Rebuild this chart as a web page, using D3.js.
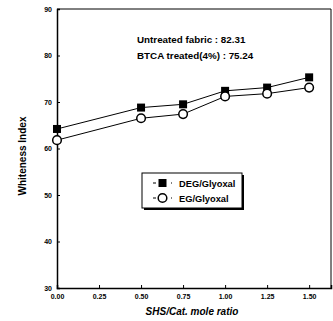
<!DOCTYPE html>
<html><head><meta charset="utf-8">
<script src="https://cdn.jsdelivr.net/npm/d3@7"></script>
<style>
html,body{margin:0;padding:0;background:#fff;}
svg{display:block;font-family:"Liberation Sans",Arial,sans-serif;}
</style></head>
<body><svg id="c" width="333" height="321"></svg>
<script>
const xValues = [0.00, 0.50, 0.75, 1.00, 1.25, 1.50];
const degValues = [64.2, 68.8, 69.5, 72.4, 73.1, 75.3];
const egValues = [61.8, 66.5, 67.4, 71.2, 71.8, 73.1];
const xTicks = [0.00, 0.25, 0.50, 0.75, 1.00, 1.25, 1.50];
const yTicks = [30, 40, 50, 60, 70, 80, 90];
const seriesNames = ["DEG/Glyoxal", "EG/Glyoxal"];
const notes = ["Untreated fabric : 82.31", "BTCA treated(4%) : 75.24"];
const xTitle = "SHS/Cat. mole ratio";
const yTitle = "Whiteness Index";

const svg = d3.select("#c");
const L = 57, R = 331, T = 9, B = 288;
const x = d3.scaleLinear().domain([0, 1.63]).range([L, R]);
const y = d3.scaleLinear().domain([30, 90]).range([B, T]);

// frame top/right
svg.append("line").attr("x1", L).attr("x2", R).attr("y1", T).attr("y2", T).attr("stroke", "#000").attr("stroke-width", 1);
svg.append("line").attr("x1", R).attr("x2", R).attr("y1", T).attr("y2", B).attr("stroke", "#000").attr("stroke-width", 1);

// axes
const yAxis = d3.axisLeft(y).tickValues(yTicks).tickSize(-3).tickPadding(5).tickFormat(d3.format("d"));
const gy = svg.append("g").attr("transform", `translate(${L},0)`).call(yAxis);
const xAxis = d3.axisBottom(x).tickValues(xTicks).tickSize(-3).tickPadding(6).tickFormat(d3.format(".2f"));
const gx = svg.append("g").attr("transform", `translate(0,${B})`).call(xAxis);
[gy, gx].forEach(g => {
  g.select(".domain").attr("stroke", "#000").attr("stroke-width", 1.5);
  g.selectAll(".tick line").attr("stroke", "#000").attr("stroke-width", 1);
  g.selectAll(".tick text").attr("font-size", 7).attr("font-weight", "bold").attr("fill", "#000")
    .attr("font-family", "Liberation Sans, Arial, sans-serif");
});

// axis titles
svg.append("text").attr("x", 192).attr("y", 315).attr("text-anchor", "middle")
  .attr("font-size", 10).attr("font-weight", "bold").attr("font-style", "italic").text(xTitle);
svg.append("text").attr("transform", "translate(26,156) rotate(-90)").attr("text-anchor", "middle")
  .attr("font-size", 10).attr("font-weight", "bold").text(yTitle);

// lines
const line = d3.line().x((d, i) => x(xValues[i])).y(d => y(d));
svg.append("path").datum(degValues).attr("d", line).attr("fill", "none").attr("stroke", "#000").attr("stroke-width", 1);
svg.append("path").datum(egValues).attr("d", line).attr("fill", "none").attr("stroke", "#000").attr("stroke-width", 1);

// markers
const sq = 8;
svg.selectAll(".sq").data(degValues).enter().append("rect")
  .attr("x", (d, i) => x(xValues[i]) - sq / 2).attr("y", d => y(d) - sq / 2)
  .attr("width", sq).attr("height", sq).attr("fill", "#000");
svg.selectAll(".ci").data(egValues).enter().append("circle")
  .attr("cx", (d, i) => x(xValues[i])).attr("cy", d => y(d)).attr("r", 4.3)
  .attr("fill", "#fff").attr("stroke", "#000").attr("stroke-width", 1.5);

// notes
notes.forEach((t, i) => {
  svg.append("text").attr("x", 137).attr("y", 43 + i * 16).attr("font-size", 9.8)
    .attr("font-weight", "bold").text(t);
});

// legend
const lx = 142, ly = 173, lw = 100, lh = 35;
svg.append("rect").attr("x", lx + 2).attr("y", ly + 2).attr("width", lw).attr("height", lh).attr("fill", "#000");
svg.append("rect").attr("x", lx).attr("y", ly).attr("width", lw).attr("height", lh).attr("fill", "#fff").attr("stroke", "#000").attr("stroke-width", 1);
seriesNames.forEach((name, i) => {
  const ry = ly + 10 + i * 15;
  svg.append("line").attr("x1", lx + 11).attr("x2", lx + 30).attr("y1", ry).attr("y2", ry)
    .attr("stroke", "#000").attr("stroke-width", 1).attr("stroke-dasharray", "3,6");
  if (i === 0) {
    svg.append("rect").attr("x", lx + 20.5 - 4).attr("y", ry - 4).attr("width", 8).attr("height", 8).attr("fill", "#000");
  } else {
    svg.append("circle").attr("cx", lx + 20.5).attr("cy", ry).attr("r", 4.3).attr("fill", "#fff").attr("stroke", "#000").attr("stroke-width", 1.5);
  }
  svg.append("text").attr("x", lx + 37).attr("y", ry + 3.5).attr("font-size", 9.3).attr("font-weight", "bold").text(name);
});
</script></body></html>
